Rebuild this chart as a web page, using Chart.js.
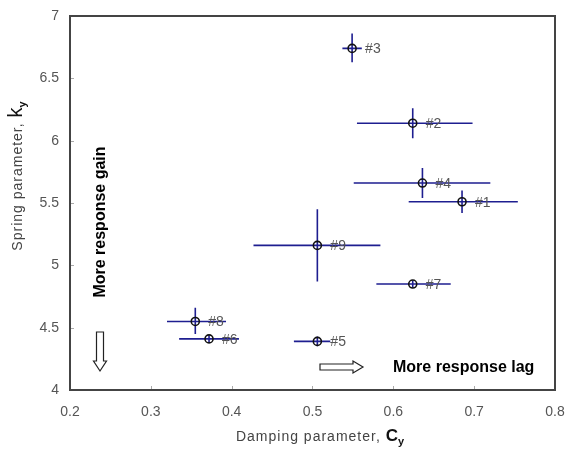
<!DOCTYPE html>
<html>
<head>
<meta charset="utf-8">
<script src="https://cdn.jsdelivr.net/npm/chart.js@4/dist/chart.umd.min.js"></script>
<style>
  html, body { margin: 0; padding: 0; background: #fff; }
  #wrap { width: 574px; height: 450px; }
</style>
</head>
<body>
<div id="wrap"><canvas id="chart" width="574" height="450"></canvas></div>
<script>
// Data
const caseLabels = ['#1', '#2', '#3', '#4', '#5', '#6', '#7', '#8', '#9'];
const dampingC = [0.685, 0.624, 0.549, 0.636, 0.506, 0.372, 0.624, 0.355, 0.506];
const springK = [5.51, 6.14, 6.74, 5.66, 4.39, 4.41, 4.85, 4.55, 5.16];
const dampingLo = [0.619, 0.555, 0.537, 0.551, 0.477, 0.335, 0.579, 0.320, 0.427];
const dampingHi = [0.754, 0.698, 0.561, 0.720, 0.522, 0.409, 0.671, 0.393, 0.584];
const springLo = [5.42, 6.02, 6.63, 5.54, 4.35, 4.38, 4.82, 4.45, 4.87];
const springHi = [5.60, 6.26, 6.86, 5.78, 4.43, 4.44, 4.88, 4.66, 5.45];
const xTickLabels = ['0.2', '0.3', '0.4', '0.5', '0.6', '0.7', '0.8'];
const yTickLabels = ['4', '4.5', '5', '5.5', '6', '6.5', '7'];

const FONT = 'Arial, "Liberation Sans", sans-serif';
const BAR_COLOR = '#1e1e90';

// Error bars under the markers
const errorBars = {
    id: 'errorBars',
    beforeDatasetsDraw(chart) {
        const { ctx, scales: { x, y } } = chart;
        ctx.save();
        ctx.strokeStyle = BAR_COLOR;
        ctx.lineWidth = 1.6;
        for (let i = 0; i < dampingC.length; i++) {
            const px = x.getPixelForValue(dampingC[i]);
            const py = y.getPixelForValue(springK[i]);
            ctx.beginPath();
            ctx.moveTo(x.getPixelForValue(dampingLo[i]), py);
            ctx.lineTo(x.getPixelForValue(dampingHi[i]), py);
            ctx.moveTo(px, y.getPixelForValue(springLo[i]));
            ctx.lineTo(px, y.getPixelForValue(springHi[i]));
            ctx.stroke();
        }
        ctx.restore();
    }
};

function drawArrowDown(ctx, cx, top, bottom) {
    ctx.beginPath();
    ctx.moveTo(cx - 3.5, top);
    ctx.lineTo(cx + 3.5, top);
    ctx.lineTo(cx + 3.5, bottom - 10);
    ctx.lineTo(cx + 6.5, bottom - 10);
    ctx.lineTo(cx, bottom);
    ctx.lineTo(cx - 6.5, bottom - 10);
    ctx.lineTo(cx - 3.5, bottom - 10);
    ctx.closePath();
    ctx.stroke();
}

function drawArrowRight(ctx, left, right, cy) {
    ctx.beginPath();
    ctx.moveTo(left, cy - 3);
    ctx.lineTo(right - 10, cy - 3);
    ctx.lineTo(right - 10, cy - 6);
    ctx.lineTo(right, cy);
    ctx.lineTo(right - 10, cy + 6);
    ctx.lineTo(right - 10, cy + 3);
    ctx.lineTo(left, cy + 3);
    ctx.closePath();
    ctx.stroke();
}

// text with a regular part, a big letter and a subscript
function titleParts(ctx, base, big, bigFont) {
    ctx.font = '14px ' + FONT;
    ctx.letterSpacing = '1px';
    const w1 = ctx.measureText(base).width;
    ctx.letterSpacing = '0px';
    ctx.font = bigFont;
    const w2 = ctx.measureText(big).width;
    ctx.font = 'bold 11px ' + FONT;
    const w3 = ctx.measureText('y').width;
    return [w1, w2, w3];
}

function drawTitle(ctx, base, big, bigFont, sx, by) {
    const [w1, w2] = titleParts(ctx, base, big, bigFont);
    ctx.fillStyle = '#444';
    ctx.font = '14px ' + FONT;
    ctx.letterSpacing = '1px';
    ctx.fillText(base, sx, by);
    ctx.letterSpacing = '0px';
    ctx.fillStyle = '#111';
    ctx.font = bigFont;
    ctx.fillText(big, sx + w1, by);
    ctx.font = 'bold 11px ' + FONT;
    ctx.fillText('y', sx + w1 + w2, by + 4);
}

// Labels, frame, inner ticks, axis titles and annotations
const decorations = {
    id: 'decorations',
    afterDraw(chart) {
        const { ctx, chartArea: a, scales: { x, y } } = chart;
        ctx.save();

        // point labels
        ctx.fillStyle = '#555';
        ctx.font = '14px ' + FONT;
        ctx.textBaseline = 'middle';
        ctx.textAlign = 'left';
        for (let i = 0; i < caseLabels.length; i++) {
            ctx.fillText(caseLabels[i], x.getPixelForValue(dampingC[i]) + 13, y.getPixelForValue(springK[i]) + 1);
        }

        // inner ticks
        ctx.strokeStyle = '#aaa';
        ctx.lineWidth = 1;
        ctx.beginPath();
        x.ticks.forEach(t => {
            const px = Math.round(x.getPixelForValue(t.value)) + 0.5;
            ctx.moveTo(px, a.bottom);
            ctx.lineTo(px, a.bottom - 4);
        });
        y.ticks.forEach(t => {
            const py = Math.round(y.getPixelForValue(t.value)) + 0.5;
            ctx.moveTo(a.left, py);
            ctx.lineTo(a.left + 4, py);
        });
        ctx.stroke();

        // frame
        ctx.strokeStyle = '#444';
        ctx.lineWidth = 2;
        ctx.strokeRect(a.left, a.top, a.right - a.left, a.bottom - a.top);

        // x axis title
        ctx.textBaseline = 'alphabetic';
        const xf = 'bold 17px ' + FONT;
        const xw = titleParts(ctx, 'Damping parameter, ', 'C', xf);
        drawTitle(ctx, 'Damping parameter, ', 'C', xf, 320 - (xw[0] + xw[1] + xw[2]) / 2, 441);

        // y axis title
        ctx.save();
        ctx.translate(22, 176);
        ctx.rotate(-Math.PI / 2);
        const yf = '20px ' + FONT;
        const yw = titleParts(ctx, 'Spring parameter, ', 'k', yf);
        drawTitle(ctx, 'Spring parameter, ', 'k', yf, -(yw[0] + yw[1] + yw[2]) / 2, 0);
        ctx.restore();

        // annotations
        ctx.fillStyle = '#000';
        ctx.font = 'bold 16px ' + FONT;
        ctx.textAlign = 'center';
        ctx.textBaseline = 'middle';
        ctx.save();
        ctx.translate(101, 222);
        ctx.rotate(-Math.PI / 2);
        ctx.fillText('More response gain', 0, 0);
        ctx.restore();
        ctx.textAlign = 'left';
        ctx.fillText('More response lag', 393, 368);

        ctx.strokeStyle = '#222';
        ctx.lineWidth = 1.2;
        drawArrowDown(ctx, 100, 332, 371);
        drawArrowRight(ctx, 320, 363, 367);

        ctx.restore();
    }
};

const points = dampingC.map((c, i) => ({ x: c, y: springK[i] }));

new Chart(document.getElementById('chart'), {
    type: 'scatter',
    data: {
        datasets: [{
            data: points,
            pointRadius: 4,
            pointBorderWidth: 1.6,
            pointBorderColor: '#111',
            pointBackgroundColor: 'rgba(255,255,255,0)'
        }]
    },
    options: {
        responsive: false,
        animation: false,
        layout: { padding: { top: 16, right: 19, left: 0, bottom: 0 } },
        plugins: { legend: { display: false }, tooltip: { enabled: false } },
        scales: {
            x: {
                type: 'linear',
                min: 0.2,
                max: 0.8,
                grid: { display: false, drawTicks: false },
                border: { display: false },
                ticks: {
                    stepSize: 0.1,
                    padding: 14,
                    color: '#555',
                    font: { size: 14, family: FONT },
                    maxRotation: 0,
                    callback: (v, i) => xTickLabels[i]
                },
                afterFit: s => {
                    s.height = 60;
                    s.paddingLeft = 0;
                    s.paddingRight = 0;
                }
            },
            y: {
                type: 'linear',
                min: 4,
                max: 7,
                grid: { display: false, drawTicks: false },
                border: { display: false },
                ticks: {
                    stepSize: 0.5,
                    padding: 11,
                    color: '#555',
                    font: { size: 14, family: FONT },
                    callback: (v, i) => yTickLabels[i]
                },
                afterFit: s => {
                    s.width = 70;
                    s.paddingTop = 0;
                    s.paddingBottom = 0;
                }
            }
        }
    },
    plugins: [errorBars, decorations]
});
</script>
</body>
</html>
